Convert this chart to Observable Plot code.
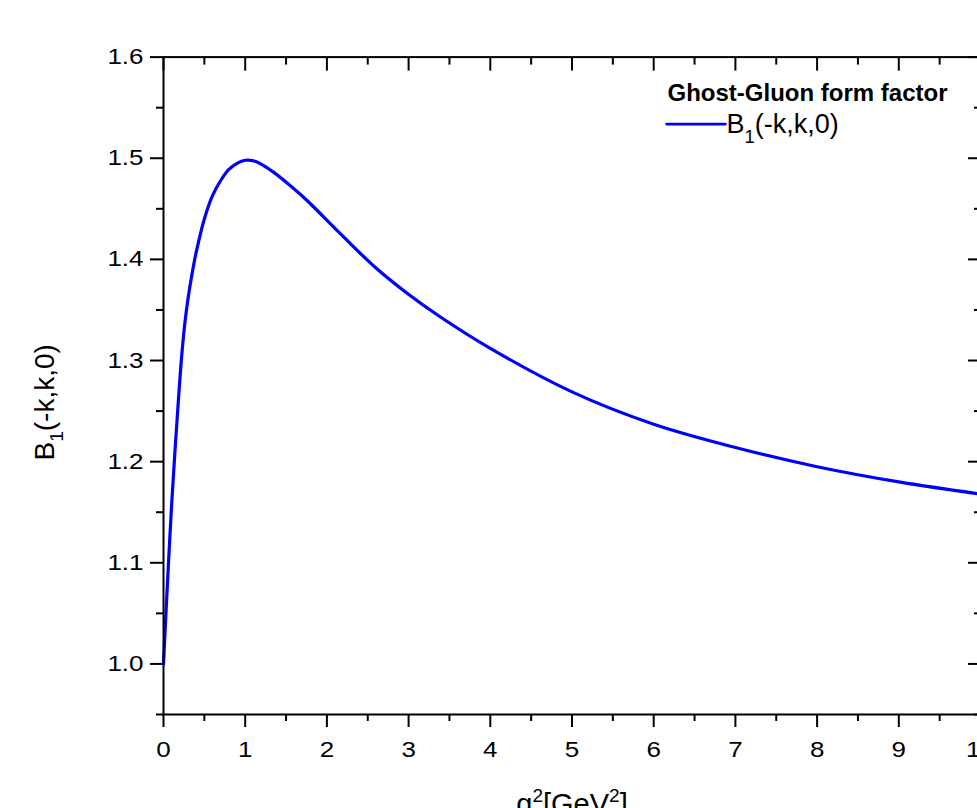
<!DOCTYPE html>
<html>
<head>
<meta charset="utf-8">
<style>
html, body { margin: 0; padding: 0; overflow: hidden; background: #fff; width: 977px; height: 808px; }
#chart svg { max-width: none !important; display: block; }
</style>
<script src="https://cdn.jsdelivr.net/npm/d3@7"></script>
<script src="https://cdn.jsdelivr.net/npm/@observablehq/plot@0.6"></script>
</head>
<body>
<div id="chart"></div>
<script>
// ---- data ----
const q2 = [0, 0.03, 0.06, 0.1, 0.14, 0.18, 0.22, 0.26, 0.3, 0.35, 0.4, 0.5, 0.6, 0.7, 0.8, 0.9, 1.0, 1.1, 1.2, 1.35, 1.55, 1.76, 2.17, 2.58, 2.99, 3.39, 4.0, 5, 6, 7, 8, 9, 10];
const b1 = [1.0, 1.05, 1.098, 1.158, 1.21, 1.258, 1.302, 1.336, 1.361, 1.386, 1.407, 1.44, 1.463, 1.478, 1.489, 1.495, 1.498, 1.4975, 1.494, 1.486, 1.473, 1.458, 1.425, 1.393, 1.366, 1.343, 1.312, 1.269, 1.237, 1.214, 1.195, 1.180, 1.168];

const xMajorTicks = [0, 1, 2, 3, 4, 5, 6, 7, 8, 9, 10];
const xMinorTicks = [0.5, 1.5, 2.5, 3.5, 4.5, 5.5, 6.5, 7.5, 8.5, 9.5];
const yMajorTicks = [1.0, 1.1, 1.2, 1.3, 1.4, 1.5, 1.6];
const yMinorTicks = [0.95, 1.05, 1.15, 1.25, 1.35, 1.45, 1.55];

const legendTitle = "Ghost-Gluon form factor";
const seriesName = "B1(-k,k,0)";
const xLabel = "q2[GeV2]";
const yLabel = "B1(-k,k,0)";

const data = q2.map((q, i) => ({q, b: b1[i]}));

const font = "'Liberation Sans', Arial, Helvetica, sans-serif";
const lineShape = {draw(ctx, l) { ctx.moveTo(0, 0); ctx.lineTo(0, -l); }};

const plot = Plot.plot({
  width: 1000,
  height: 830,
  marginLeft: 163,
  marginRight: 20,
  marginTop: 56.6,
  marginBottom: 116,
  style: {fontFamily: font, fontSize: "22px", color: "black", background: "white", overflow: "visible"},
  x: {domain: [0, 10], label: null},
  y: {domain: [0.95, 1.6], label: null},
  marks: [
    // bottom axis (outward ticks + labels)
    Plot.axisX({anchor: "bottom", ticks: xMajorTicks, tickSize: 13, tickPadding: 14, strokeWidth: 2, fontSize: 22, tickFormat: d => String(d), label: null}),
    Plot.axisX({anchor: "bottom", ticks: xMinorTicks, tickSize: 7, strokeWidth: 2, fill: "none", label: null}),
    // top axis (inward ticks)
    Plot.axisX({anchor: "top", ticks: xMajorTicks, tickSize: 13, dy: 13, strokeWidth: 2, fill: "none", label: null}),
    Plot.axisX({anchor: "top", ticks: xMinorTicks, tickSize: 7, dy: 7, strokeWidth: 2, fill: "none", label: null}),
    // left axis (outward ticks + labels)
    Plot.axisY({anchor: "left", ticks: yMajorTicks, tickSize: 13, tickPadding: 7, strokeWidth: 2, fontSize: 22, tickFormat: d3.format(".1f"), label: null}),
    Plot.axisY({anchor: "left", ticks: yMinorTicks, tickSize: 7, strokeWidth: 2, fill: "none", label: null}),
    // right axis (inward ticks)
    Plot.axisY({anchor: "right", ticks: yMajorTicks, tickSize: 13, dx: -13, strokeWidth: 2, fill: "none", label: null}),
    Plot.axisY({anchor: "right", ticks: yMinorTicks, tickSize: 7, dx: -7, strokeWidth: 2, fill: "none", label: null}),
    // curve
    Plot.line(data, {x: "q", y: "b", stroke: "#0000ff", strokeWidth: 3.2, curve: "catmull-rom"}),
    Plot.frame({stroke: "black", strokeWidth: 2}),
    // legend
    Plot.text([legendTitle], {text: d => d, frameAnchor: "top-left", dx: 504, dy: 44, textAnchor: "start", lineAnchor: "bottom", fontWeight: "bold", fontSize: 24}),
    Plot.vector([seriesName], {frameAnchor: "top-left", dx: 503, dy: 67, length: 59, rotate: 90, anchor: "start", shape: lineShape, stroke: "#0000ff", strokeWidth: 2.6}),
    Plot.text([seriesName], {text: d => d, frameAnchor: "top-left", dx: 563, dy: 76, textAnchor: "start", lineAnchor: "bottom", fontSize: 27}),
    // axis titles
    Plot.text([xLabel], {text: d => d, frameAnchor: "bottom", dy: 79, lineAnchor: "top", textAnchor: "middle", fontSize: 29}),
    Plot.text([yLabel], {text: d => d, frameAnchor: "left", dx: -110, dy: 16.5, rotate: -90, lineAnchor: "bottom", textAnchor: "middle", fontSize: 28})
  ]
});

document.getElementById("chart").appendChild(plot);
plot.style.maxWidth = "none";

// widen tick labels horizontally (reference digits are stretched)
const stretch = 1.18;
plot.querySelectorAll('g[aria-label="x-axis tick label"] text, g[aria-label="y-axis tick label"] text').forEach(t => {
  const tr = t.getAttribute("transform");
  if (tr) t.setAttribute("transform", tr + ` scale(${stretch},1)`);
  else {
    const x = parseFloat(t.getAttribute("x")) || 0;
    t.setAttribute("transform", `translate(${x},0) scale(${stretch},1) translate(${-x},0)`);
  }
});

// subscripts / superscripts as tspans
function rich(match, parts) {
  plot.querySelectorAll("text").forEach(t => {
    if (t.textContent !== match || t.querySelector("tspan")) return;
    const fs = parseFloat(getComputedStyle(t).fontSize) || 22;
    t.textContent = "";
    let cur = 0;
    for (const [s, kind] of parts) {
      const ts = document.createElementNS("http://www.w3.org/2000/svg", "tspan");
      ts.textContent = s;
      let shift = 0;
      if (kind === "sub") { ts.setAttribute("font-size", (fs * 0.68).toFixed(1)); shift = fs * 0.35; }
      if (kind === "sup") { ts.setAttribute("font-size", (fs * 0.66).toFixed(1)); shift = -fs * 0.42; }
      const d = shift - cur;
      if (Math.abs(d) > 0.01) ts.setAttribute("dy", d.toFixed(2));
      cur = shift;
      t.appendChild(ts);
    }
  });
}
rich(seriesName, [["B"], ["1", "sub"], ["(-k,k,0)"]]);
rich(xLabel, [["q"], ["2", "sup"], ["[GeV"], ["2", "sup"], ["]"]]);
</script>
</body>
</html>
